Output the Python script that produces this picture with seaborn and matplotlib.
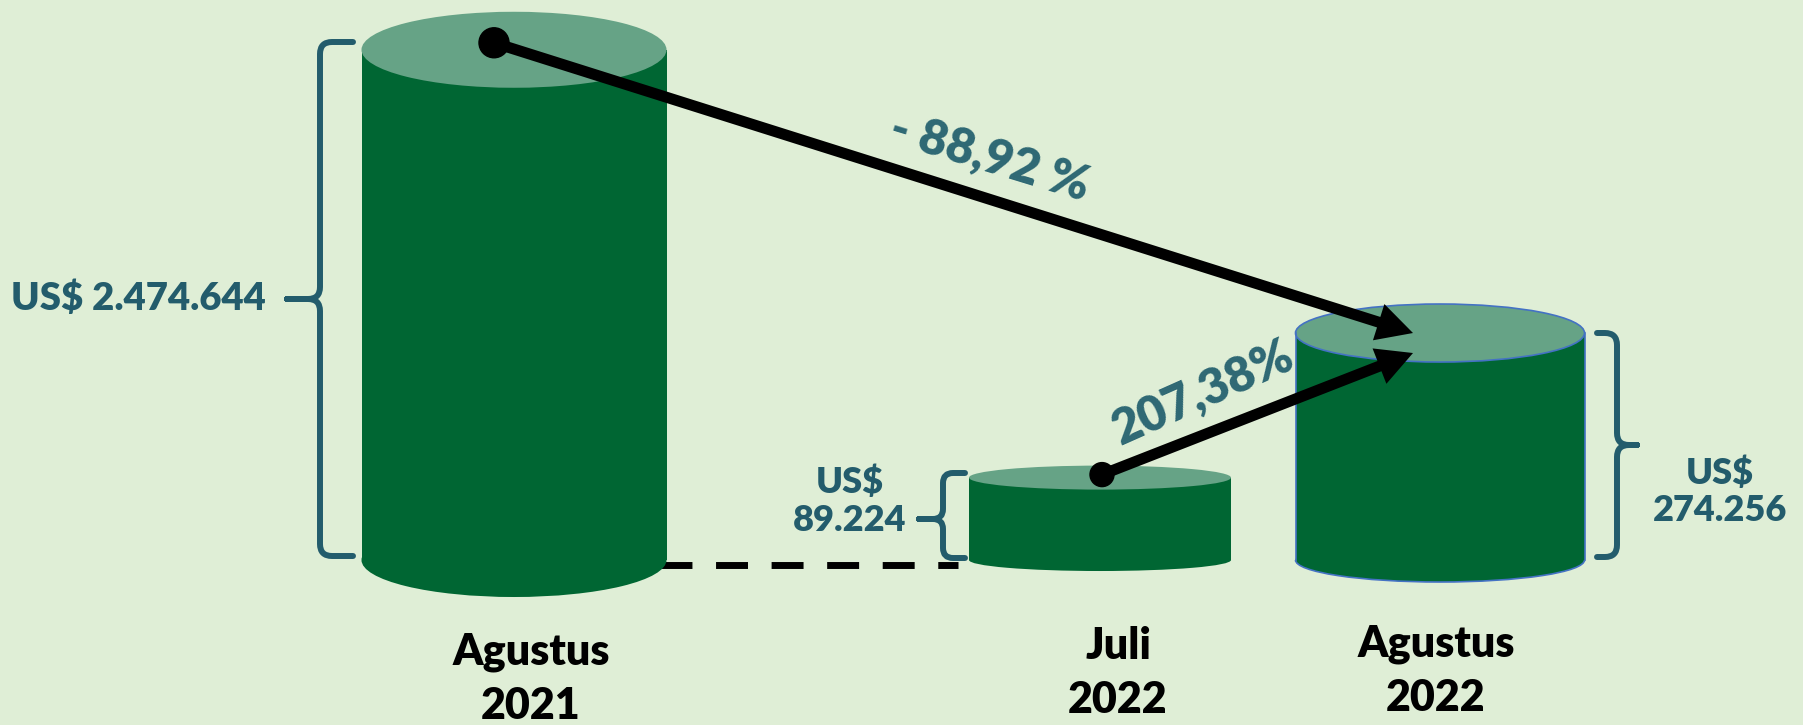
import numpy as np
import pandas as pd
import seaborn as sns
import matplotlib.pyplot as plt
from matplotlib.patches import Ellipse, Arc, Circle, PathPatch
from matplotlib.path import Path

# data
periode = ["Agustus\n2021", "Juli\n2022", "Agustus\n2022"]
nilai = [2474644, 89224, 274256]
label_nilai = ["US$ 2.474.644", "US$\n89.224", "US$\n274.256"]
perubahan = ["- 88,92 %", "207,38%"]

# warna
BG = "#DFEED6"
BADAN = "#006633"
TUTUP = "#66A386"
TEAL = "#235C6C"
TEAL2 = "#2E6874"
BIRU = "#4472C4"

W, H = 1803, 725
fig = plt.figure(figsize=(W / 100, H / 100), dpi=100, facecolor=BG)
plt.rcParams["font.family"] = ["Lato", "DejaVu Sans"]

# tabung = batang seaborn di skala log
ax = fig.add_axes([0, 0, 1, 1])
ax.set_yscale("log")
df = pd.DataFrame({"periode": periode, "nilai": nilai})
sns.barplot(data=df, x="periode", y="nilai", color=BADAN, saturation=1, ax=ax)
ax.set_xlim(0, W)
ax.set_ylim(10 ** 4.116, 10 ** 6.5614)
ax.axis("off")

base = 10 ** 4.6725
pusat = [514, 1100, 1440]
lebar = [305, 262, 289]
ry_atas = [38, 12, 29]
ry_bawah = [37, 11, 22]

for p, cx, w, v in zip(ax.patches, pusat, lebar, nilai):
    p.set_x(cx - w / 2)
    p.set_width(w)
    p.set_y(base)
    p.set_height(v - base)

# lapisan atas dalam piksel
ov = fig.add_axes([0, 0, 1, 1], facecolor="none")
ov.set_xlim(0, W)
ov.set_ylim(H, 0)
ov.axis("off")


def py(v):
    return H - ax.transData.transform((0, v))[1]


yb = py(base)
atas = [py(v) for v in nilai]

# garis putus-putus
ov.plot([660, 958], [565, 565], color="black", lw=5, ls=(0, (4.6, 3.4)), zorder=0.5)

for i, (cx, w) in enumerate(zip(pusat, lebar)):
    ov.add_patch(Ellipse((cx, yb), w, 2 * ry_bawah[i], color=BADAN, lw=0, zorder=1))
    ov.add_patch(Ellipse((cx, atas[i]), w, 2 * ry_atas[i], color=TUTUP, lw=0, zorder=2))

# garis tepi biru tabung ketiga
cx, w = pusat[2], lebar[2]
ov.add_patch(Ellipse((cx, atas[2]), w, 2 * ry_atas[2], fill=False, ec=BIRU, lw=1.2, zorder=3))
ov.add_patch(Arc((cx, yb), w, 2 * ry_bawah[2], theta1=0, theta2=180, ec=BIRU, lw=1.2, zorder=3))
for sx in (cx - w / 2, cx + w / 2):
    ov.plot([sx, sx], [atas[2], yb], color=BIRU, lw=1.2, zorder=3)


def kurung(x_kait, x_batang, x_ujung, y0, y1, ym, r=12):
    s = np.sign(x_kait - x_batang)
    t = np.sign(x_ujung - x_batang)
    xm = x_batang + t * r
    verts = [(x_kait, y0), (x_batang + s * r, y0), (x_batang, y0), (x_batang, y0 + r),
             (x_batang, ym - r), (x_batang, ym), (xm, ym), (x_ujung, ym),
             (xm, ym), (x_batang, ym), (x_batang, ym + r),
             (x_batang, y1 - r), (x_batang, y1), (x_batang + s * r, y1), (x_kait, y1)]
    codes = [Path.MOVETO, Path.LINETO, Path.CURVE3, Path.CURVE3,
             Path.LINETO, Path.CURVE3, Path.CURVE3, Path.LINETO,
             Path.LINETO, Path.CURVE3, Path.CURVE3,
             Path.LINETO, Path.CURVE3, Path.CURVE3, Path.LINETO]
    ov.add_patch(PathPatch(Path(verts, codes), fill=False, ec=TEAL, lw=4.3,
                           capstyle="round", joinstyle="round", zorder=4))


kurung(353, 320, 287, 42, 556, 299)
kurung(965, 943, 919, 473, 558, 519, r=10)
kurung(1597, 1617, 1637, 333, 557, 445)

# panah
x0, y0 = pusat[0] - 20, atas[0] - 7
x1, y1 = pusat[1] + 2, atas[1] - 3
tx, ty = pusat[2] - 27, atas[2]
for (sx, sy), (ex, ey) in [((x0, y0), (tx, ty)), ((x1, y1), (tx, ty + 20))]:
    ov.arrow(sx, sy, ex - sx, ey - sy, width=11, head_width=38, head_length=36,
             length_includes_head=True, color="black", lw=0, zorder=6)
ov.add_patch(Circle((x0, y0), 15, color="black", zorder=7))
ov.add_patch(Circle((x1, y1), 12, color="black", zorder=7))

# teks
ov.text(266, 298, label_nilai[0], ha="right", va="center", fontsize=27.5,
        fontweight="heavy", color=TEAL)
ov.text(850, 501, label_nilai[1], ha="center", va="center", fontsize=26,
        fontweight="heavy", color=TEAL, linespacing=1.2)
ov.text(1720, 492, label_nilai[2], ha="center", va="center", fontsize=26,
        fontweight="heavy", color=TEAL, linespacing=1.15)

ov.text(990, 157, perubahan[0], ha="center", va="center", rotation=-17,
        rotation_mode="anchor", fontsize=35, fontweight="heavy", color=TEAL2)
ov.text(1203, 393, perubahan[1], ha="center", va="center", rotation=24,
        rotation_mode="anchor", fontsize=35, fontweight="heavy", color=TEAL2)

for cx, lab, yy in zip([531, 1118, 1436], periode, [679, 673, 671]):
    ov.text(cx, yy, lab, ha="center", va="center", fontsize=31,
            fontweight="heavy", color="black", linespacing=1.42)

fig.savefig("out.png", dpi=100, facecolor=BG)
